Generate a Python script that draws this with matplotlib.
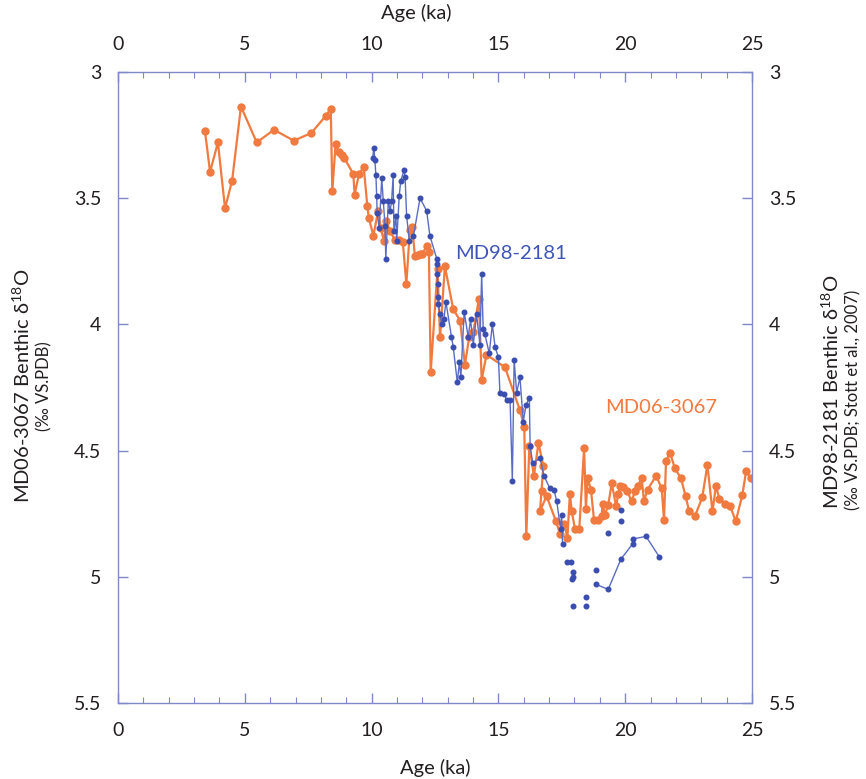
import numpy as np
import matplotlib
matplotlib.use("Agg")
import matplotlib.pyplot as plt

plt.rcParams['font.family'] = ['Lato', 'DejaVu Sans']

# MD06-3067 benthic d18O (orange)
md06_age = [3.43, 3.63, 3.94, 4.22, 4.50, 4.85, 5.47, 6.15, 6.93, 7.62, 8.20, 8.39, 8.45,
            8.58, 8.71, 8.82, 8.92, 9.28, 9.33, 9.50, 9.69, 9.83, 9.89, 10.07, 10.26, 10.36,
            10.49, 10.57, 10.73, 10.92, 11.07, 11.23, 11.37, 11.51, 11.60, 11.71, 11.82,
            11.91, 12.00, 12.17, 12.26, 12.33, 12.60, 12.70, 12.89, 13.22, 13.49, 13.68,
            13.85, 14.01, 14.23, 14.34, 14.53, 15.26, 15.85, 16.02, 16.10, 16.22, 16.40,
            16.58, 16.77, 16.70, 16.64, 16.90, 17.27, 17.43, 17.60, 17.72, 17.82, 17.89,
            18.02, 18.19, 18.38, 18.45, 18.52, 18.65, 18.77, 18.94, 19.07, 19.11, 19.20,
            19.33, 19.47, 19.64, 19.73, 19.80, 19.90, 20.08, 20.25, 20.39, 20.49, 20.65,
            20.74, 20.88, 21.22, 21.44, 21.53, 21.61, 21.77, 21.96, 22.20, 22.38, 22.52,
            22.75, 23.04, 23.24, 23.44, 23.58, 23.71, 23.94, 24.14, 24.36, 24.62, 24.77,
            24.95, 25.20]
md06_d18o = [3.234, 3.396, 3.279, 3.54, 3.43, 3.137, 3.279, 3.229, 3.272, 3.242, 3.173, 3.145,
             3.473, 3.285, 3.318, 3.329, 3.339, 3.405, 3.486, 3.405, 3.376, 3.53, 3.578,
             3.648, 3.55, 3.62, 3.67, 3.59, 3.63, 3.666, 3.666, 3.673, 3.84, 3.626, 3.615,
             3.73, 3.725, 3.72, 3.72, 3.69, 3.715, 4.19, 3.78, 4.05, 3.77, 3.94, 3.985,
             4.16, 4.05, 4.03, 3.90, 4.22, 4.12, 4.17, 4.34, 4.405, 4.84, 4.48, 4.60, 4.47,
             4.56, 4.66, 4.74, 4.68, 4.78, 4.83, 4.79, 4.845, 4.67, 4.74, 4.81, 4.81, 4.49,
             4.73, 4.61, 4.655, 4.775, 4.775, 4.76, 4.71, 4.755, 4.715, 4.63, 4.72, 4.67,
             4.64, 4.645, 4.66, 4.70, 4.66, 4.64, 4.61, 4.70, 4.655, 4.60, 4.65, 4.775,
             4.54, 4.51, 4.57, 4.61, 4.68, 4.74, 4.76, 4.685, 4.557, 4.74, 4.64, 4.69,
             4.71, 4.72, 4.78, 4.675, 4.58, 4.61, 4.66]

# MD98-2181 benthic d18O (blue), Stott et al. 2007
md98_age = [10.04, 10.09, 10.13, 10.17, 10.20, 10.22, 10.30, 10.40, 10.46, 10.53, 10.56,
            10.66, 10.73, 10.79, 10.85, 10.88, 10.96, 10.99, 11.09, 11.15, 11.28, 11.32,
            11.38, 11.49, 11.65, 11.91, 12.17, 12.30, 12.57, 12.58, 12.59, 12.60, 12.61,
            12.62, 12.70, 12.76, 12.85, 12.93, 13.15, 13.22, 13.38, 13.46, 13.52, 13.65,
            13.81, 13.90, 14.01, 14.14, 14.27, 14.34, 14.40, 14.47, 14.64, 14.76, 14.87,
            15.00, 15.06, 15.22, 15.33, 15.46, 15.55, 15.62, 15.72, 15.85, 15.98, 16.09,
            16.22, 16.25, 16.35, 16.64, 16.80, 17.03, 17.19, 17.30, 17.45, 17.49, 17.53]
md98_d18o = [3.34, 3.30, 3.35, 3.41, 3.49, 3.56, 3.62, 3.42, 3.51, 3.61, 3.74, 3.51, 3.55,
             3.51, 3.41, 3.63, 3.57, 3.67, 3.49, 3.43, 3.39, 3.415, 3.57, 3.67, 3.65, 3.50,
             3.55, 3.65, 3.74, 3.76, 3.80, 3.84, 3.89, 3.92, 3.96, 4.00, 3.98, 3.91, 4.05,
             4.09, 4.23, 4.15, 4.21, 3.95, 4.05, 3.98, 4.08, 3.96, 4.08, 3.80, 4.02, 4.04,
             4.115, 4.00, 4.09, 4.13, 4.27, 4.275, 4.30, 4.30, 4.62, 4.14, 4.27, 4.21,
             4.385, 4.32, 4.29, 4.48, 4.55, 4.53, 4.60, 4.65, 4.656, 4.70, 4.81, 4.755, 4.87]

# unconnected MD98-2181 samples around the glacial maximum
md98_dots_age = [17.72, 17.85, 17.93, 17.96, 17.89, 17.96, 18.44, 18.44, 18.85, 19.33, 19.83, 19.83]
md98_dots_d18o = [4.94, 4.94, 4.98, 5.00, 5.01, 5.115, 5.08, 5.115, 4.975, 4.825, 4.735, 4.78]

md98_tail_age = [18.85, 19.33, 19.83, 20.29, 20.31, 20.82, 21.34]
md98_tail_d18o = [5.03, 5.05, 4.93, 4.87, 4.85, 4.84, 4.92]

orange = '#f07a3f'
blue = '#3a4db0'
blue_line = '#5a6cc4'
axcol = '#8088c8'
txt = '#231f20'

fig = plt.figure(figsize=(8.66, 7.79), dpi=100)
ax = fig.add_axes([118 / 866, 1 - 703 / 779, (752 - 118) / 866, (703 - 72) / 779])

ax.plot(md06_age, md06_d18o, '-o', color=orange, lw=1.6, ms=5, mec=orange, zorder=2)
ax.plot(md98_age, md98_d18o, '-o', color=blue_line, mfc=blue, mec=blue, lw=1.0, ms=3.3, zorder=3)
ax.plot(md98_tail_age, md98_tail_d18o, '-o', color=blue_line, mfc=blue, mec=blue, lw=1.0, ms=3.3, zorder=3)
ax.plot(md98_dots_age, md98_dots_d18o, 'o', mfc=blue, mec=blue, ms=3.3, zorder=3)

ax.set_xlim(0, 25)
ax.set_ylim(5.5, 3)
ax.set_xticks(np.arange(0, 26, 5))
ax.set_xticks(np.arange(0, 26, 1), minor=True)
ax.set_yticks(np.arange(3, 5.51, 0.5))
ax.set_yticklabels(['3', '3.5', '4', '4.5', '5', '5.5'])

for s in ax.spines.values():
    s.set_color(axcol)
    s.set_linewidth(1.0)

ax.tick_params(which='both', direction='in', colors=axcol, labelcolor=txt, labelsize=14,
               top=True, right=True, labeltop=True, labelright=True)
ax.tick_params(which='major', length=7, width=1.0)
ax.tick_params(which='minor', length=4, width=0.8)
ax.tick_params(axis='x', pad=14)
ax.tick_params(axis='y', pad=12)

ax.set_xlabel('Age (ka)', fontsize=14.5, color=txt, labelpad=14)
fig.text(416 / 866, 1 - 13 / 779, 'Age (ka)', fontsize=14.5, color=txt, ha='center', va='center')

fig.text(22 / 866, 1 - 386 / 779, r'MD06-3067 Benthic $\mathregular{\delta^{18}}$O', rotation=90,
         fontsize=14.5, color=txt, ha='center', va='center')
fig.text(44 / 866, 1 - 386 / 779, '(‰ VS.PDB)', rotation=90, fontsize=12, color=txt,
         ha='center', va='center')
fig.text(831 / 866, 1 - 392 / 779, r'MD98-2181 Benthic $\mathregular{\delta^{18}}$O', rotation=90,
         fontsize=14.5, color=txt, ha='center', va='center')
fig.text(853 / 866, 1 - 400 / 779, '(‰ VS.PDB; Stott et al., 2007)', rotation=90, fontsize=12,
         color=txt, ha='center', va='center')

ax.text(15.5, 3.72, 'MD98-2181', color='#3e56b8', fontsize=14.5, ha='center', va='center')
ax.text(21.4, 4.33, 'MD06-3067', color=orange, fontsize=14.5, ha='center', va='center')

fig.savefig('out.png', dpi=100)
